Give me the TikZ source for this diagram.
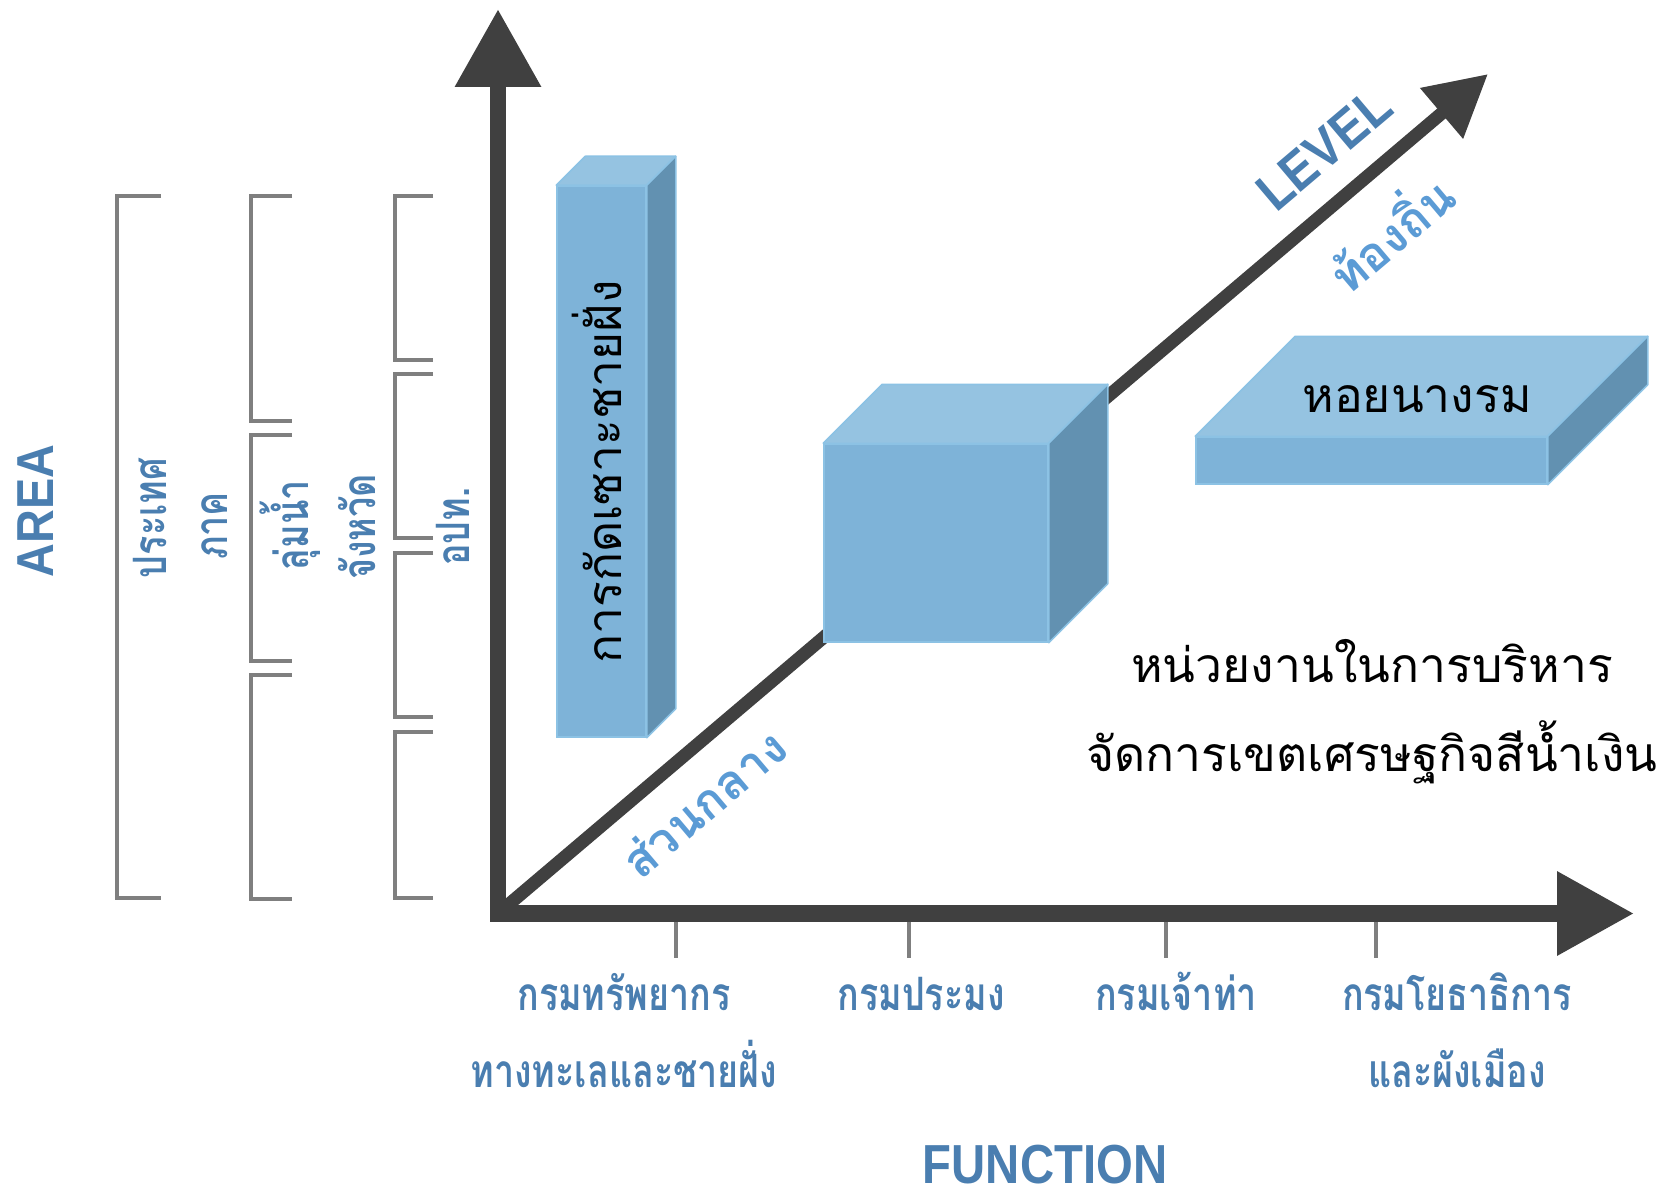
\documentclass[tikz,border=0pt]{standalone}
\usepackage{fontspec}
\setmainfont[Script=Thai]{Loma}
\newfontfamily\thaicond[Script=Thai,FakeStretch=0.78]{Loma}
\newfontfamily\latinbold[FakeStretch=0.9]{Liberation Sans}
\newfontfamily\latincond[FakeStretch=0.86]{Liberation Sans}
\usetikzlibrary{arrows.meta}
\usetikzlibrary{calc}
\usetikzlibrary{positioning}

\definecolor{axisgray}{HTML}{404040}
\definecolor{bracketgray}{HTML}{7F7F7F}
\definecolor{labelblue}{HTML}{4A7EB0}
\definecolor{lightblue}{HTML}{5B9BD5}
\definecolor{boxfront}{HTML}{7EB3D8}
\definecolor{boxtop}{HTML}{95C3E1}
\definecolor{boxside}{HTML}{6291B1}
\definecolor{boxedge}{HTML}{8CC2E4}

\begin{document}
\begin{tikzpicture}[x=1pt, y=-1pt]

\pgfmathsetmacro{\DB}{29}
\pgfmathsetmacro{\DC}{59}
\pgfmathsetmacro{\DS}{100}
\pgfmathsetmacro{\ANG}{40.28}

\tikzset{
  axis/.style={draw=axisgray, line width=16.5pt, line join=miter},
  diag/.style={draw=axisgray, line width=13pt},
  tick/.style={draw=bracketgray, line width=4pt},
  brack/.style={draw=bracketgray, line width=3.5pt, line join=miter},
  front/.style={draw=boxedge, fill=boxfront, line width=1.5pt, inner sep=0pt},
  topface/.style={draw=boxedge, fill=boxtop, line width=1.5pt, line join=round},
  sideface/.style={draw=boxedge, fill=boxside, line width=1.5pt, line join=round},
  axislabel/.style={inner sep=0pt, align=center, text=labelblue, font=\thaicond\bfseries\fontsize{46}{77}\selectfont},
  sidelabel/.style={inner sep=0pt, rotate=90, anchor=base, text=labelblue, font=\thaicond\bfseries\fontsize{46}{50}\selectfont},
  boxtext/.style={inner sep=0pt, font=\fontsize{48}{89}\selectfont},
  levellabel/.style={inner sep=0pt, rotate=\ANG, text=lightblue, font=\bfseries\fontsize{48}{52}\selectfont},
  titlelabel/.style={inner sep=0pt, text=labelblue, font=\latinbold\bfseries\fontsize{52}{56}\selectfont},
}

\useasboundingbox (0,0) rectangle (1664,1193);

\coordinate (O) at (498,913.5);
\coordinate (Ytip) at (498,9);
\coordinate (Xtip) at (1634,913.5);
\coordinate (Ztip) at (1488,74);

\draw [diag, -{Triangle[length=61pt, width=63pt]}] (O) -- (Ztip);
\draw [axis, {Triangle[length=78pt, width=82pt]}-{Triangle[length=77pt, width=80pt]}] (Ytip) -- (O) -- (Xtip);

\foreach \x [count=\i] in {676,909,1166,1376}{
  \coordinate (t\i) at (\x,922);
  \draw [tick] (t\i) -- ++(0,36);
}

\node [front, minimum width=89pt, minimum height=551pt] (bar) at (601.5,461.5) {};
\filldraw [topface] (bar.north west) -- ++(\DB,-\DB) -- ($(bar.north east)+(\DB,-\DB)$) -- (bar.north east) -- cycle;
\filldraw [sideface] (bar.north east) -- ++(\DB,-\DB) -- ($(bar.south east)+(\DB,-\DB)$) -- (bar.south east) -- cycle;
\node [boxtext, rotate=90, anchor=base] (erosion) at (621,472) {การกัดเซาะชายฝั่ง};

\node [front, minimum width=224pt, minimum height=198pt] (cube) at (936,543) {};
\filldraw [topface] (cube.north west) -- ++(\DC,-\DC) -- ($(cube.north east)+(\DC,-\DC)$) -- (cube.north east) -- cycle;
\filldraw [sideface] (cube.north east) -- ++(\DC,-\DC) -- ($(cube.south east)+(\DC,-\DC)$) -- (cube.south east) -- cycle;

\node [front, minimum width=351pt, minimum height=47pt] (slab) at (1371.5,460.5) {};
\filldraw [topface] (slab.north west) -- ++(\DS,-\DS) -- ($(slab.north east)+(\DS,-\DS)$) -- (slab.north east) -- cycle;
\filldraw [sideface] (slab.north east) -- ++(\DS,-\DS) -- ($(slab.south east)+(\DS,-\DS)$) -- (slab.south east) -- cycle;
\node [boxtext, anchor=base] (oyster) at (1417,412) {หอยนางรม};

\node [boxtext, anchor=base, align=center] (unit) at (1372,771) {หน่วยงานในการบริหาร\\จัดการเขตเศรษฐกิจสีน้ำเงิน};

\foreach \x/\a/\t/\b in {117/44/196/898, 251/41/196/421, 251/41/435/661, 251/41/675/899,
  395/38/196/360, 395/38/374/538, 395/38/553/717, 395/38/732/898}
  \draw [brack] (\x+\a,\t) -- (\x,\t) -- (\x,\b) -- (\x+\a,\b);

\node [titlelabel, rotate=90, anchor=base] (area) at (53,511) {AREA};
\node [sidelabel] (country) at (166,518) {ประเทศ};
\node [sidelabel] (region) at (227,526) {ภาค};
\node [sidelabel] (basin) at (308,525) {ลุ่มน้ำ};
\node [sidelabel] (province) at (375,527) {จังหวัด};
\node [sidelabel] (local) at (469,527) {อปท.};

\node [levellabel] (central) at (704,803) {ส่วนกลาง};
\node [levellabel] (localgov) at (1388,231) {ท้องถิ่น};
\node [titlelabel, rotate=\ANG, font=\latinbold\bfseries\fontsize{54}{58}\selectfont] (level) at (1324,149) {LEVEL};

\node [axislabel, anchor=base] (F1) at (624,1087) {กรมทรัพยากร\\ทางทะเลและชายฝั่ง};
\node [axislabel, anchor=base] (F2) at (921,1010) {กรมประมง};
\node [axislabel, anchor=base] (F3) at (1176,1010) {กรมเจ้าท่า};
\node [axislabel, anchor=base] (F4) at (1457,1087) {กรมโยธาธิการ\\และผังเมือง};

\node [titlelabel, anchor=base, text depth=0pt, font=\latincond\bfseries\fontsize{55}{60}\selectfont] (function) at (1045,1183) {FUNCTION};

\end{tikzpicture}
\end{document}
